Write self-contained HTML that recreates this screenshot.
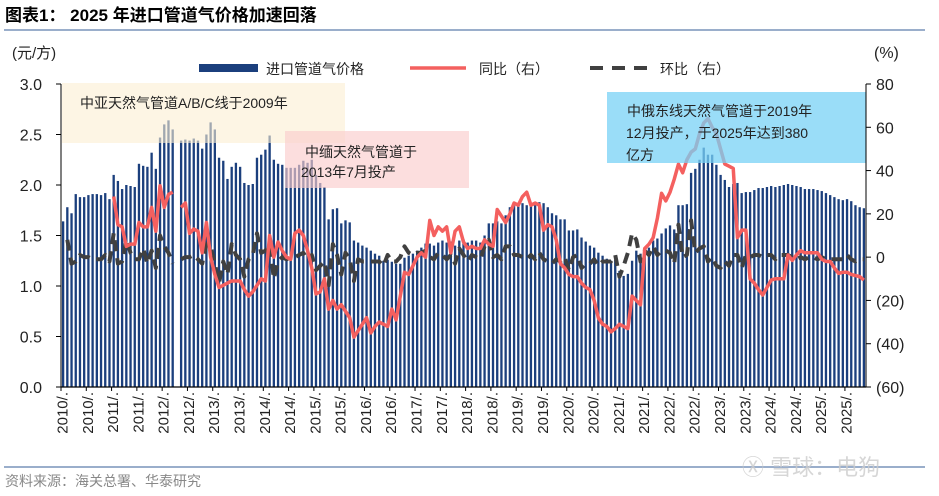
<!DOCTYPE html>
<html><head><meta charset="utf-8">
<style>
html,body{margin:0;padding:0;background:#fff;width:939px;height:496px;overflow:hidden;font-family:"Liberation Sans","Noto Sans CJK SC",sans-serif;}
svg{display:block}
</style></head>
<body>
<svg id="chart" width="939" height="496" viewBox="0 0 939 496" xmlns="http://www.w3.org/2000/svg">
  <text x="5" y="21" font-size="17" font-weight="bold" fill="#000" font-family="Liberation Sans, Noto Sans CJK SC, sans-serif">图表1：  2025 年进口管道气价格加速回落</text>
  <line x1="4" y1="30" x2="925" y2="30" stroke="#9aaecb" stroke-width="2"/>
  <text x="12" y="58" font-size="15" fill="#222">(元/方)</text>
  <text x="874" y="58" font-size="16" fill="#222">(%)</text>
  <g id="legend">
    <rect x="199" y="64" width="59" height="8" fill="#1b3f7d"/>
    <text x="266" y="74" font-size="14" fill="#222">进口管道气价格</text>
    <line x1="410" y1="68" x2="466" y2="68" stroke="#f4605f" stroke-width="3.5"/>
    <text x="479" y="74" font-size="14" fill="#222">同比（右）</text>
    <line x1="590" y1="68" x2="652" y2="68" stroke="#404040" stroke-width="4" stroke-dasharray="13,9"/>
    <text x="660" y="74" font-size="14" fill="#222">环比（右）</text>
  </g>
  <g id="bars"></g>
  <g id="lines"></g>
  <g>
    <rect x="62" y="83" width="283" height="60" fill="rgb(252,238,210)" fill-opacity="0.6"/>
    <text x="80" y="108" font-size="14" fill="#222">中亚天然气管道A/B/C线于2009年</text>
    <rect x="285" y="131" width="184" height="57" fill="rgb(250,205,205)" fill-opacity="0.65"/>
    <text x="305" y="157" font-size="14" fill="#222">中缅天然气管道于</text>
    <text x="301" y="177" font-size="14" fill="#222">2013年7月投产</text>
    <rect x="607" y="92" width="259" height="71" fill="rgb(120,210,245)" fill-opacity="0.75"/>
    <text x="627" y="116" font-size="14" fill="#222">中俄东线天然气管道于2019年</text>
    <text x="626" y="138" font-size="14" fill="#222">12月投产，于2025年达到380</text>
    <text x="626" y="160" font-size="14" fill="#222">亿方</text>
  </g>
  <g id="axes"></g>
  <line x1="4" y1="467" x2="925" y2="467" stroke="#9aaecb" stroke-width="2"/>
  <text x="5" y="486" font-size="14" fill="#888">资料来源：海关总署、华泰研究</text>
  <text x="742" y="475" font-size="22" fill="#ccc" fill-opacity="0.8">Ⓧ 雪球：电狗</text>
</svg>
<script>
// ---- data ----
const years = [2010,2011,2012,2013,2014,2015,2016,2017,2018,2019,2020,2021,2022,2023,2024,2025];
const price = [
1.64,1.78,1.72,1.91,1.88,1.88,1.90,1.91,1.91,1.90,1.92,1.86,
2.10,2.04,1.96,2.00,1.99,1.98,2.21,2.19,2.18,2.32,2.16,2.47,
2.60,2.64,2.55,null,2.44,2.45,2.44,2.46,2.44,2.36,2.50,2.62,
2.55,2.27,2.24,2.06,2.18,2.22,2.18,2.02,2.00,2.01,2.27,2.30,
2.35,2.49,2.25,2.21,2.20,2.17,2.17,2.17,2.20,2.24,2.22,2.25,
2.10,2.02,1.98,1.66,1.76,1.77,1.62,1.65,1.63,1.45,1.43,1.40,
1.38,1.35,1.32,1.30,1.25,1.26,1.24,1.22,1.22,1.28,1.30,1.32,
1.35,1.38,1.42,1.42,1.40,1.43,1.45,1.43,1.44,1.40,1.45,1.46,
1.43,1.45,1.45,1.43,1.50,1.62,1.62,1.64,1.62,1.70,1.78,1.80,
1.82,1.82,1.80,1.82,1.80,1.83,1.82,1.78,1.72,1.70,1.66,1.66,
1.55,1.55,1.56,1.48,1.44,1.40,1.38,1.33,1.30,1.27,1.25,1.26,
1.15,1.10,1.12,1.25,1.35,1.32,1.36,1.38,1.45,1.47,1.52,1.57,
1.60,1.56,1.80,1.80,1.81,2.12,2.16,2.25,2.37,2.30,2.30,2.20,
2.10,2.05,1.98,2.01,2.02,1.92,1.93,1.93,1.95,1.97,1.97,1.98,
1.99,1.98,1.99,2.00,2.01,2.00,1.99,1.98,1.96,1.96,1.96,1.95,
1.94,1.92,1.90,1.88,1.86,1.85,1.86,1.84,1.80,1.78,1.77];
const yoy = [
null,null,null,null,null,null,null,null,null,null,null,null,
28,15,14,5,6,6,16,14,14,23,12,33,
23,29,30,null,23,25,11,13,12,2,16,0,
-8,-14,-13,-12,-11,-11,-11,-15,-18,-16,-13,-10,
-11,10,0,7,3,0,-1,11,12.5,10,3,-5,
-17,-16,-10,-24,-20,-24,-22,-25,-28,-37,-34,-31,
-28,-35,-32,-30,-31,-32,-24,-29,-18,-7,-8,-4,
0,2,0,17,10,14,12,14,2,12,14,7,
4,5,4,4,8,6,5,22,19,16,20,25,
24,28,30,24,25,24,12.5,15,14,8,-3,-5,
-8,-9,-9,-12,-14,-15,-20,-28,-31,-32,-34.5,-33,
-31,-32,-33,-18,-20,-22,4,6,9,18,29.5,26,
30,36,43,39,45,48.5,50,57,62,64,60,57,
50,43,42,41,9,12.5,12.5,-10,-12,-15,-17.5,-14,
-10.6,-10,-10,-10,1,-1.5,1,3,2,2,2,2,
-1,-2,-2,-5,-7.5,-7,-7,-8,-8.5,-9,-10.6];
const mom = [
null,8,-3,-2,1,0,0,-1,-1,-1,1,-2,
11,-3,-2,8,2,-1,-1,4,-3,3,-5,10,
5,2,-3,null,-1,0,0,1,-1,-3,6,5,
-3,-12,-2,-8,6,1,-1,-9,-1,1,11,2,
3,6,-10,-2,0,-1,0,0,1,2,-1,1,
-6,-4,-2,-13,6,1,-8,2,-1,-11,-1,-2,
-2,-2,-2,-2,-4,1,-2,-2,0,5,2,1,
2,2,3,0,-1,2,1,-1,1,-3,4,1,
-2,1,0,-1,5,8,0,1,-1,5,5,1,
1,0,-1,1,-1,2,-1,-2,-3,-1,-2,0,
-6,0,1,-5,-3,-3,-1,-4,-2,-2,-2,1,
-9,-4,2,11,8,-2,3,1,5,1,3,3,
2,-3,15,0,1,17,2,4,5,-2,0,-4,
-5,-2,-4,1,1,-5,1,0,1,1,0,1,
1,-1,1,1,1,0,-1,0,-1,0,0,-1,
0,-1,-1,-1,-1,-1,1,-1,-2,-1,-1];
const leftTicks = [0,0.5,1.0,1.5,2.0,2.5,3.0];
const rightTicks = [-60,-40,-20,0,20,40,60,80];

// ---- scales ----
const X0 = 61, X1 = 866, YB = 387, YT = 84;
const nMonths = 191;
const step = (X1 - X0) / nMonths;
function xc(i){ return X0 + (i + 0.5) * step; }
function yL(v){ return YB - (v - 0) / 3 * (YB - YT); }
function yR(v){ return YB - (v + 60) / 140 * (YB - YT); }
const NS = "http://www.w3.org/2000/svg";
function mk(tag, attrs, parent){ const e = document.createElementNS(NS, tag); for (const k in attrs) e.setAttribute(k, attrs[k]); parent.appendChild(e); return e; }

// bars
const gb = document.getElementById('bars');
const bw = step * 0.55;
price.forEach((v, i) => {
  if (v === null) return;
  const r = mk('rect', {x: (xc(i) - bw/2).toFixed(2), y: yL(v).toFixed(2), width: bw.toFixed(2), height: (YB - yL(v)).toFixed(2), fill: '#1b3f7d'}, gb);
  
  
});

// lines
const gl = document.getElementById('lines');
function pathFor(arr){
  let d = '', pen = false;
  arr.forEach((v, i) => {
    if (v === null) { pen = false; return; }
    d += (pen ? 'L' : 'M') + xc(i).toFixed(2) + ',' + yR(v).toFixed(2);
    pen = true;
  });
  return d;
}
const momPath = mk('path', {d: pathFor(mom), fill: 'none', stroke: '#404040', 'stroke-width': 4, 'stroke-dasharray': '11,7', 'stroke-linejoin': 'round'}, gl);


const yoyPath = mk('path', {d: pathFor(yoy), fill: 'none', stroke: '#f4605f', 'stroke-width': 3.5, 'stroke-linejoin': 'round'}, gl);



// axes
const ga = document.getElementById('axes');
const axL = mk('line', {x1: X0, y1: YT, x2: X0, y2: YB, stroke: '#000', 'stroke-width': 1}, ga);


const axR = mk('line', {x1: X1, y1: YT, x2: X1, y2: YB, stroke: '#000', 'stroke-width': 1}, ga);


const axB = mk('line', {x1: X0, y1: YB, x2: X1, y2: YB, stroke: '#000', 'stroke-width': 1.2}, ga);


leftTicks.forEach(v => {
  mk('line', {x1: X0 - 5, y1: yL(v), x2: X0, y2: yL(v), stroke: '#000'}, ga);
  const t = mk('text', {x: 42, y: yL(v) + 6, 'font-size': 16, 'text-anchor': 'end', fill: '#222'}, ga);
  t.textContent = v.toFixed(1);
  
  
});
rightTicks.forEach(v => {
  mk('line', {x1: X1, y1: yR(v), x2: X1 + 5, y2: yR(v), stroke: '#000'}, ga);
  const t = mk('text', {x: 876, y: yR(v) + 6, 'font-size': 16, fill: '#222'}, ga);
  t.textContent = v < 0 ? '(' + (-v) + ')' : String(v);
  
  
});
for (let i = 0; i < nMonths; i += 6) {
  const x = X0 + i * step;
  mk('line', {x1: x, y1: YB, x2: x, y2: YB + 4, stroke: '#000'}, ga);
  const yr = years[Math.floor(i / 12)];
  const t = mk('text', {x: 0, y: 0, 'font-size': 15, 'text-anchor': 'end', fill: '#222', transform: 'translate(' + (x + 6.5).toFixed(2) + ',392) rotate(-90)'}, ga);
  t.textContent = yr + '/.';
  
  
}
</script>
</body></html>
